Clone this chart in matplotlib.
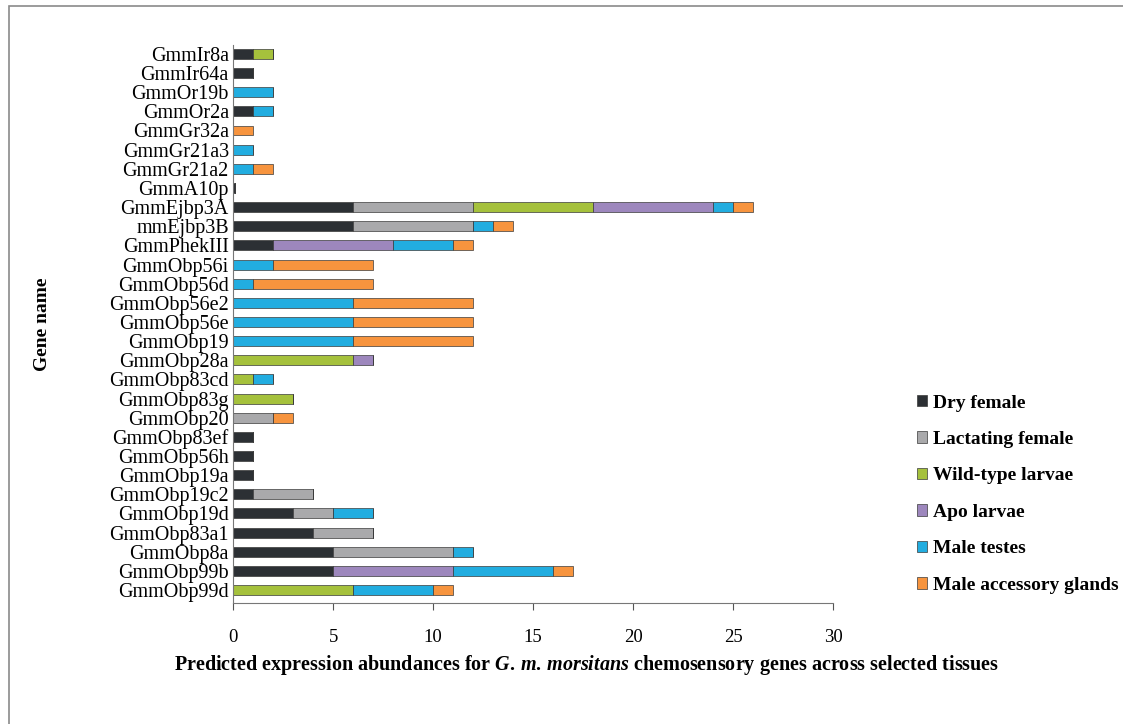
import matplotlib.pyplot as plt
from matplotlib.patches import Rectangle
import numpy as np

plt.rcParams['font.family'] = ['Liberation Serif', 'DejaVu Serif']
plt.rcParams['mathtext.fontset'] = 'custom'
plt.rcParams['mathtext.it'] = 'Liberation Serif:italic:bold'
plt.rcParams['mathtext.rm'] = 'Liberation Serif:bold'

# genes listed top to bottom as shown on the chart
genes = ["GmmIr8a", "GmmIr64a", "GmmOr19b", "GmmOr2a", "GmmGr32a", "GmmGr21a3",
         "GmmGr21a2", "GmmA10p", "GmmEjbp3A", "mmEjbp3B", "GmmPhekIII", "GmmObp56i",
         "GmmObp56d", "GmmObp56e2", "GmmObp56e", "GmmObp19", "GmmObp28a", "GmmObp83cd",
         "GmmObp83g", "GmmObp20", "GmmObp83ef", "GmmObp56h", "GmmObp19a", "GmmObp19c2",
         "GmmObp19d", "GmmObp83a1", "GmmObp8a", "GmmObp99b", "GmmObp99d"]

tissues = ["Dry female", "Lactating female", "Wild-type larvae", "Apo larvae",
           "Male testes", "Male accessory glands"]

dry_female = [1, 1, 0, 1, 0, 0, 0, 0.1, 6, 6, 2, 0, 0, 0, 0, 0, 0, 0, 0, 0, 1, 1, 1, 1, 3, 4, 5, 5, 0]
lactating  = [0, 0, 0, 0, 0, 0, 0, 0, 6, 6, 0, 0, 0, 0, 0, 0, 0, 0, 0, 2, 0, 0, 0, 3, 2, 3, 6, 0, 0]
wild_larv  = [1, 0, 0, 0, 0, 0, 0, 0, 6, 0, 0, 0, 0, 0, 0, 0, 6, 1, 3, 0, 0, 0, 0, 0, 0, 0, 0, 0, 6]
apo_larv   = [0, 0, 0, 0, 0, 0, 0, 0, 6, 0, 6, 0, 0, 0, 0, 0, 1, 0, 0, 0, 0, 0, 0, 0, 0, 0, 0, 6, 0]
testes     = [0, 0, 2, 1, 0, 1, 1, 0, 1, 1, 3, 2, 1, 6, 6, 6, 0, 1, 0, 0, 0, 0, 0, 0, 2, 0, 1, 5, 4]
acc_glands = [0, 0, 0, 0, 1, 0, 1, 0, 1, 1, 1, 5, 6, 6, 6, 6, 0, 0, 0, 1, 0, 0, 0, 0, 0, 0, 0, 1, 1]

series = [dry_female, lactating, wild_larv, apo_larv, testes, acc_glands]
colors = ["#2c3034", "#a9a9ab", "#a5c13c", "#9d87bd", "#22ade0", "#f7943e"]

fig = plt.figure(figsize=(11.23, 7.24), dpi=100)
ax = fig.add_axes([0.2075, 0.167, 0.5345, 0.771])

y = np.arange(len(genes))[::-1]
left = np.zeros(len(genes))
for vals, col, name in zip(series, colors, tissues):
    vals = np.array(vals, dtype=float)
    ax.barh(y, vals, left=left, height=0.52, color=col, edgecolor="#3a3a3a",
            linewidth=0.5, label=name)
    left += vals

ax.set_xlim(0, 30)
ax.set_ylim(-0.68, len(genes) - 0.53)
ax.set_xticks([0, 5, 10, 15, 20, 25, 30])
ax.set_yticks(y)
ax.set_yticklabels(genes, fontsize=14.5)
ax.tick_params(axis="x", labelsize=13.5, pad=14, length=5, color="#555555")
ax.tick_params(axis="y", length=0, pad=3)
for s in ["top", "right"]:
    ax.spines[s].set_visible(False)
ax.spines["left"].set_color("#777777")
ax.spines["bottom"].set_color("#777777")

ax.set_ylabel("Gene name", fontsize=14, fontweight="bold", labelpad=42)
fig.text(0.522, 0.074,
         r"Predicted expression abundances for $G.\,m.\,morsitans$ chemosensory genes across selected tissues",
         ha="center", fontsize=14.5, fontweight="bold")

ax.legend(loc="upper left", bbox_to_anchor=(1.11, 0.405), frameon=False,
          prop={"weight": "bold", "size": 14}, handlelength=0.55,
          handleheight=0.55, handletextpad=0.3, labelspacing=1.0)

# outer frame around the figure
fig.patches.append(Rectangle((9 / 1123, -0.1), 1.2, 1 - 6 / 724 + 0.1,
                             transform=fig.transFigure, fill=False,
                             edgecolor="#8a8a8a", linewidth=1.2))

fig.savefig("out.png", dpi=100)
